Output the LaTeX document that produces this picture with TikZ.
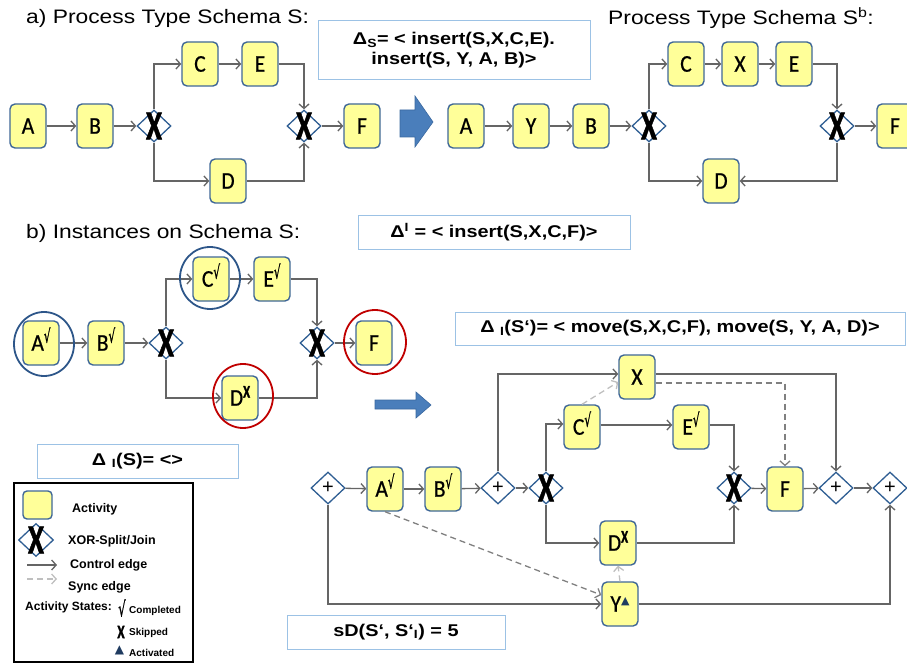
\documentclass[tikz,border=0pt]{standalone}
\usepackage{fontspec}
\setmainfont{Liberation Sans}[FakeStretch=1.17]
\newfontfamily\plainsans{Liberation Sans}
\newfontfamily\actfont{Carlito}[FakeStretch=0.9, FakeBold=0.6]
\newfontfamily\xfont{Carlito}[FakeStretch=0.7, FakeBold=1.2]
\newfontfamily\djv{DejaVu Sans}
\newfontfamily\djvn{DejaVu Sans}[FakeStretch=0.55, FakeBold=0.8]
\usetikzlibrary{shapes.geometric,arrows.meta,calc}
\definecolor{actfill}{HTML}{FFFF99}
\definecolor{actline}{HTML}{3F6797}
\definecolor{gwline}{HTML}{2F5E93}
\definecolor{edgec}{HTML}{656565}
\definecolor{syncl}{HTML}{BFBFBF}
\definecolor{syncd}{HTML}{808080}
\definecolor{boxline}{HTML}{9CC2E5}
\definecolor{bigarrow}{HTML}{4A7EBB}
\definecolor{bigarrowline}{HTML}{3A68A0}
\definecolor{circblue}{HTML}{2D5689}
\definecolor{circred}{HTML}{C00000}
\definecolor{navy}{HTML}{1F3B60}
\newcommand{\ck}{\smash{\raisebox{8pt}{\djvn\fontsize{19}{19}\selectfont √}}}
\newcommand{\skp}{\smash{\raisebox{8pt}{\xfont\bfseries\fontsize{18}{18}\selectfont X}}}
\newcommand{\actv}{\smash{\raisebox{7pt}{\djv\fontsize{11}{11}\selectfont\color{navy}▲}}}
\begin{document}
\begin{tikzpicture}[x=1pt,y=-1pt,
  act/.style={draw=actline, fill=actfill, line width=1.4pt, rounded corners=5pt,
    minimum width=36pt, minimum height=44pt, inner sep=0pt,
    font=\actfont\fontsize{24}{24}\selectfont},
  gw/.style={diamond, draw=gwline, fill=white, line width=1.3pt,
    minimum width=34pt, minimum height=32pt, inner sep=0pt},
  xorg/.style={gw, label={[font=\xfont\bfseries\fontsize{41}{41}\selectfont, inner sep=0pt]center:X}},
  andg/.style={gw, label={[font=\plainsans\fontsize{20}{20}\selectfont, inner sep=0pt]center:+}},
  ctrl/.style={draw=edgec, line width=1.3pt, -{Straight Barb[length=4.5pt,width=10pt]}},
  syncld/.style={draw=syncl, line width=1.3pt, dash pattern=on 6pt off 4pt, -{Straight Barb[length=4.5pt,width=10pt]}},
  syncdd/.style={draw=syncd, line width=1.3pt, dash pattern=on 6pt off 4pt, -{Straight Barb[length=4.5pt,width=10pt]}},
  dbox/.style={draw=boxline, line width=1pt, fill=white, inner sep=0pt, align=center,
    font=\bfseries\fontsize{17}{20}\selectfont},
  title/.style={anchor=west, inner sep=0pt, font=\fontsize{19.5}{20}\selectfont},
  bcirc/.style={draw=circblue, line width=1.8pt},
  rcirc/.style={draw=circred, line width=1.8pt},
  blk/.style={fill=bigarrow, draw=bigarrowline, line width=0.6pt},
  legt/.style={anchor=west, inner sep=0pt, font=\plainsans\bfseries\fontsize{12.5}{13}\selectfont},
  legs/.style={anchor=west, inner sep=0pt, font=\plainsans\bfseries\fontsize{10}{11}\selectfont}
]
\useasboundingbox (0,0) rectangle (907,663);

% ---------- a) ----------
\node[title] (ta) at (26,18) {a) Process Type Schema S:};
\node[title] (tb) at (608,18) {Process Type Schema S\textsuperscript{b}:};

\node[act] (a1) at (28,126) {A};
\node[act] (b1) at (95,126) {B};
\node[xorg] (x1) at (154,126) {};
\node[act] (c1) at (200,64) {C};
\node[act] (e1) at (260,64) {E};
\node[xorg] (x2) at (304,126) {};
\node[act] (f1) at (362,126) {F};
\node[act] (d1) at (228,181) {D};
\draw[ctrl] (a1) -- (b1);
\draw[ctrl] (b1) -- (x1);
\draw[ctrl] (x1.north) |- (c1.west);
\draw[ctrl] (c1) -- (e1);
\draw[ctrl] (e1.east) -| (x2.north);
\draw[ctrl] (x1.south) |- (d1.west);
\draw[ctrl] (d1.east) -| (x2.south);
\draw[ctrl] (x2) -- (f1);

\node[dbox, minimum width=272pt, minimum height=59pt] (ds) at (454,50.5)
  {Δ\textsubscript{S}= < insert(S,X,C,E).\\insert(S, Y, A, B)>};

\draw[blk] (400,110) -- (415,110) -- (415,96) -- (433,122) -- (415,147) -- (415,137) -- (400,137) -- cycle;

\node[act] (a2) at (466,126) {A};
\node[act] (y2) at (531,126) {Y};
\node[act] (b2) at (591,126) {B};
\node[xorg] (x3) at (649,126) {};
\node[act] (c2) at (686,64) {C};
\node[act] (xx2) at (740,64) {X};
\node[act] (e2) at (794,64) {E};
\node[xorg] (x4) at (837,126) {};
\node[act] (f2) at (895,126) {F};
\node[act] (d2) at (721,181) {D};
\draw[ctrl] (a2) -- (y2);
\draw[ctrl] (y2) -- (b2);
\draw[ctrl] (b2) -- (x3);
\draw[ctrl] (x3.north) |- (c2.west);
\draw[ctrl] (c2) -- (xx2);
\draw[ctrl] (xx2) -- (e2);
\draw[ctrl] (e2.east) -| (x4.north);
\draw[ctrl] (x3.south) |- (d2.west);
\draw[ctrl] (x4.south) |- (d2.east);
\draw[ctrl] (x4) -- (f2);

% ---------- b) ----------
\node[title] (tc) at (26,233) {b) Instances on Schema S:};
\node[dbox, minimum width=272pt, minimum height=34pt] (di) at (494,232)
  {Δ\textsuperscript{I} = < insert(S,X,C,F)>};

\node[act] (ia) at (41,343) {A\ck};
\node[act] (ib) at (106,343) {B\ck};
\node[xorg] (ix1) at (166,343) {};
\node[act] (ic) at (211,279) {C\ck};
\node[act] (ie) at (272,279) {E\ck};
\node[xorg] (ix2) at (317,343) {};
\node[act] (if) at (374,343) {F};
\node[act] (id) at (240,398) {D\skp};
\draw[ctrl] (ia) -- (ib);
\draw[ctrl] (ib) -- (ix1);
\draw[ctrl] (ix1.north) |- (ic.west);
\draw[ctrl] (ic) -- (ie);
\draw[ctrl] (ie.east) -| (ix2.north);
\draw[ctrl] (ix1.south) |- (id.west);
\draw[ctrl] (id.east) -| (ix2.south);
\draw[ctrl] (ix2) -- (if);
\draw[bcirc] ($(ia)+(3,1)$) ellipse [x radius=30, y radius=32];
\draw[bcirc] ($(ic)+(-1,-1)$) ellipse [x radius=30, y radius=31];
\draw[rcirc] ($(if)+(1,-1)$) ellipse [x radius=31, y radius=32];
\draw[rcirc] ($(id)+(3,-2)$) ellipse [x radius=30, y radius=32];

\node[dbox, minimum width=201pt, minimum height=34pt] (dis) at (137.5,461)
  {Δ \textsubscript{I}(S)= <>};

\draw[blk] (375,400) -- (416,400) -- (416,392) -- (431,405) -- (416,418) -- (416,409) -- (375,409) -- cycle;

\node[dbox, minimum width=450pt, minimum height=33pt] (dip) at (680,328.5)
  {Δ \textsubscript{I}(S‘)= < move(S,X,C,F), move(S, Y, A, D)>};

\node[andg] (p1) at (328,488) {};
\node[act] (ra) at (385,489) {A\ck};
\node[act] (rb) at (443,489) {B\ck};
\node[andg] (p2) at (498,488) {};
\node[xorg] (rx1) at (546,488) {};
\node[act] (rc) at (582,427) {C\ck};
\node[act] (rxx) at (637,377) {X};
\node[act] (re) at (691,427) {E\ck};
\node[xorg] (rx2) at (734,488) {};
\node[act] (rf) at (785,489) {F};
\node[andg] (p3) at (836,488) {};
\node[andg] (p4) at (890,488) {};
\node[act] (rd) at (618,543) {D\skp};
\node[act] (ry) at (620,604) {Y\actv};

\draw[ctrl] (p1) -- (ra);
\draw[ctrl] (ra) -- (rb);
\draw[ctrl] (rb) -- (p2);
\draw[ctrl] (p2) -- (rx1);
\draw[ctrl] (p2.north) |- ([yshift=3pt]rxx.west);
\draw[ctrl] (rx1.north) |- ([yshift=3pt]rc.west);
\draw[ctrl] ([yshift=2pt]rc.east) -- ([yshift=2pt]re.west);
\draw[ctrl] ([yshift=2pt]re.east) -| (rx2.north);
\draw[ctrl] (rx1.south) |- (rd.west);
\draw[ctrl] (rd.east) -| (rx2.south);
\draw[ctrl] (rx2) -- (rf);
\draw[ctrl] (rf) -- (p3);
\draw[ctrl] (p3) -- (p4);
\draw[ctrl] ([yshift=3pt]rxx.east) -| (p3.north);
\draw[syncdd] ([yshift=-6pt]rxx.east) -| (rf.north);
\draw[syncld] (rc.north) -- ([yshift=-5pt]rxx.west);
\draw[syncdd] (ra.south) -- ([yshift=9pt]ry.west);
\draw[syncld] (ry.north) -- (rd.south);
\draw[ctrl] (p1.south) |- (ry.west);
\draw[ctrl] (ry.east) -| (p4.south);

\node[dbox, minimum width=218pt, minimum height=34pt] (sd) at (396,632)
  {sD(S‘, S‘\textsubscript{I}) = 5};

% ---------- legend ----------
\draw[black, line width=1.5pt] (14,483) rectangle (193,662);
\node[act, minimum width=29pt, minimum height=28pt, rounded corners=4pt] (lact) at (37.5,505) {};
\node[legt] (lactt) at (72,509) {Activity};
\node[xorg, minimum width=35pt, minimum height=33pt] (lxor) at (36,540) {};
\node[legt] (lxort) at (68,541) {XOR-Split/Join};
\coordinate (lc1) at (27,565);
\coordinate (lc2) at (57,565);
\draw[ctrl] (lc1) -- (lc2);
\node[legt] (lct) at (70,565) {Control edge};
\coordinate (ls1) at (27,579);
\coordinate (ls2) at (57,579);
\draw[syncld] (ls1) -- (ls2);
\node[legt] (lst) at (68,587) {Sync edge};
\node[legt, font=\plainsans\bfseries\fontsize{12}{13}\selectfont] (lstates) at (25,607) {Activity States:};
\node[inner sep=0pt, font=\djvn\fontsize{21}{21}\selectfont] (lck) at (122,608) {√};
\node[legs] (lckt) at (129,611) {Completed};
\node[inner sep=0pt, font=\xfont\bfseries\fontsize{19}{19}\selectfont] (lsk) at (121,632) {X};
\node[legs] (lskt) at (129,633) {Skipped};
\node[inner sep=0pt, font=\djv\fontsize{12}{12}\selectfont, text=navy] (lac) at (119.5,650) {▲};
\node[legs] (lact2) at (129,653) {Activated};
\end{tikzpicture}
\end{document}
